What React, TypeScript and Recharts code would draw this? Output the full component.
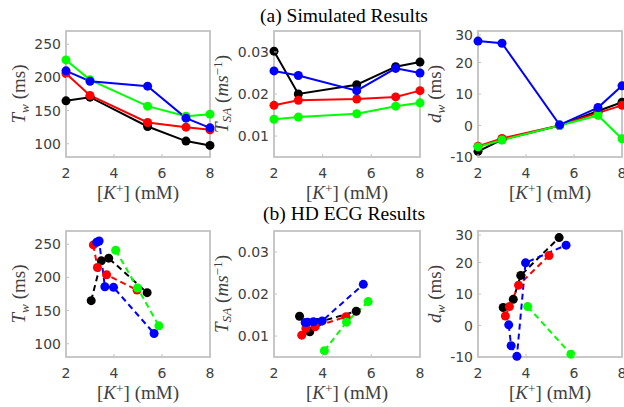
import { LineChart, Line, XAxis, YAxis } from "recharts";

// simulated results, K+ concentrations
const simK = [2, 3, 5.4, 7, 8];
const simTwBlack = [164.7, 170.2, 126, 104, 97.5];
const simTwRed = [205.9, 172.7, 132, 125, 121];
const simTwGreen = [226.4, 196.3, 156.7, 141.6, 144.6];
const simTwBlue = [209.9, 194.3, 186.8, 138.6, 124];

const simTsaBlack = [0.0302, 0.02, 0.0222, 0.0265, 0.0276];
const simTsaRed = [0.0173, 0.0185, 0.0188, 0.0193, 0.0208];
const simTsaGreen = [0.014, 0.0145, 0.0153, 0.0171, 0.0179];
const simTsaBlue = [0.0255, 0.0244, 0.0208, 0.0261, 0.025];

const simDwBlack = [-8.2, -4.5, 0, 4.6, 7.4];
const simDwRed = [-6.6, -4.1, 0, 4, 6.4];
const simDwGreen = [-6.8, -4.6, 0, 3.2, -4.2];
const simDwBlue = [26.8, 26.1, 0.2, 5.7, 12.6];

// HD ECG results, each patient has its own K+ values
const hdKBlack = [3.05, 3.47, 3.78, 5.38];
const hdKRed = [3.14, 3.31, 3.69, 4.96];
const hdKGreen = [4.07, 4.98, 5.87];
const hdKBlue = [3.28, 3.38, 3.62, 3.98, 5.67];

const hdTwBlack = [165, 225, 229, 177];
const hdTwRed = [249, 215, 204, 181];
const hdTwGreen = [241, 184, 127];
const hdTwBlue = [253, 255, 186, 185, 115.5];

const hdTsaBlack = [0.0147, 0.011, 0.0132, 0.0159];
const hdTsaRed = [0.0102, 0.0118, 0.0122, 0.0146];
const hdTsaGreen = [0.0065, 0.0133, 0.0182];
const hdTsaBlue = [0.0132, 0.0133, 0.0134, 0.0136, 0.0223];

const hdDwBlack = [5.7, 8.3, 15.9, 27.9];
const hdDwRed = [3.0, 6.0, 12.8, 22.2];
const hdDwGreen = [6.0, null, -9.1];
const hdDwBlue = [0.2, -6.4, -9.8, 19.9, 25.5];

const xTicks = [2, 4, 6, 8];
const twTicks = [100, 150, 200, 250];
const tsaTicks = [0.01, 0.02, 0.03];
const dwTicks = [-10, 0, 10, 20, 30];

const BLACK = "#000000";
const RED = "#ff0000";
const GREEN = "#00ff00";
const BLUE = "#0000ff";

const AXIS = "#c2c2c2";
const TXT = "#404040";
const tickFont = { fontFamily: "DejaVu Sans", fontSize: 14 };
const serif = "Liberation Serif";

type Series = { color: string; k: number[]; v: (number | null)[] };

const pts = (s: Series) =>
  s.k
    .map((k, i) => ({ k, v: s.v[i] }))
    .filter((p) => p.v !== null);

const BottomTick = (p: any) => (
  <g>
    <line x1={p.x} x2={p.x} y1={p.y} y2={p.y - 3} stroke={AXIS} />
    <text x={p.x} y={p.y + 21} textAnchor="middle" fill={TXT} {...tickFont}>
      {p.payload.value}
    </text>
  </g>
);
const LeftTick = (p: any) => (
  <g>
    <line x1={p.x} x2={p.x + 3} y1={p.y} y2={p.y} stroke={AXIS} />
    <text x={p.x - 5} y={p.y + 5} textAnchor="end" fill={TXT} {...tickFont}>
      {p.payload.value}
    </text>
  </g>
);

const L = 50;
const T = 5;
const R = 6;
const B = 30;

function Panel(props: {
  x: number;
  y: number;
  w: number;
  h: number;
  yDomain: [number, number];
  yTicks: number[];
  series: Series[];
  dashed?: boolean;
}) {
  const { x, y, w, h, yDomain, yTicks, series, dashed } = props;
  return (
    <>
      {/* axes box */}
      <svg
        width={w + 4}
        height={h + 4}
        style={{ position: "absolute", left: x - 2, top: y - 2, pointerEvents: "none" }}
      >
        <rect x={2} y={2} width={w} height={h} fill="none" stroke={AXIS} strokeWidth={1.8} />
      </svg>
      <div style={{ position: "absolute", left: x - L, top: y - T }}>
        <LineChart width={L + w + R} height={T + h + B} margin={{ top: T, right: R, bottom: 0, left: 0 }}>
          <XAxis
            dataKey="k"
            type="number"
            domain={[2, 8]}
            ticks={xTicks}
            height={B}
            tickSize={0}
            tickMargin={0}
            tickLine={false}
            tick={BottomTick}
            axisLine={false}
            allowDuplicatedCategory={false}
          />
          <YAxis
            type="number"
            domain={yDomain}
            ticks={yTicks}
            width={L}
            tickSize={0}
            tickMargin={0}
            tickLine={false}
            tick={LeftTick}
            axisLine={false}
          />
          {series.map((s, i) => (
            <Line
              key={i}
              data={pts(s)}
              dataKey="v"
              stroke={s.color}
              strokeWidth={2}
              strokeDasharray={dashed ? "6 4" : undefined}
              dot={{ r: 4.5, fill: s.color, stroke: s.color, strokeWidth: 0, strokeDasharray: "0" }}
              activeDot={false}
              isAnimationActive={false}
            />
          ))}
        </LineChart>
      </div>
    </>
  );
}

const labelBase: React.CSSProperties = {
  position: "absolute",
  transform: "translate(-50%, -50%)",
  fontFamily: serif,
  fontSize: 19,
  color: TXT,
  whiteSpace: "nowrap",
  lineHeight: 1,
};

const sub: React.CSSProperties = { fontSize: "0.7em", verticalAlign: "-0.25em" };
const sup: React.CSSProperties = { fontSize: "0.7em", verticalAlign: "0.45em" };

function XLabel({ cx, cy }: { cx: number; cy: number }) {
  return (
    <div style={{ ...labelBase, left: cx, top: cy }}>
      [<i>K</i>
      <span style={sup}>+</span>] (mM)
    </div>
  );
}

function YLabel({ cx, cy, kind }: { cx: number; cy: number; kind: "tw" | "tsa" | "dw" }) {
  let content;
  if (kind === "tw")
    content = (
      <>
        <i>T</i>
        <i style={sub}>w</i> (ms)
      </>
    );
  else if (kind === "tsa")
    content = (
      <>
        <i>T</i>
        <i style={sub}>SA</i> (<i>ms</i>
        <span style={sup}>−1</span>)
      </>
    );
  else
    content = (
      <>
        <i>d</i>
        <i style={sub}>w</i> (ms)
      </>
    );
  return (
    <div style={{ ...labelBase, left: cx, top: cy, transform: "translate(-50%, -50%) rotate(-90deg)" }}>
      {content}
    </div>
  );
}

const cols = [
  { x: 66, w: 144 },
  { x: 274, w: 146 },
  { x: 478, w: 144 },
];
const rows = [31, 231];
const H = 126;

export default function App() {
  const simTw: Series[] = [
    { color: BLACK, k: simK, v: simTwBlack },
    { color: RED, k: simK, v: simTwRed },
    { color: GREEN, k: simK, v: simTwGreen },
    { color: BLUE, k: simK, v: simTwBlue },
  ];
  const simTsa: Series[] = [
    { color: BLACK, k: simK, v: simTsaBlack },
    { color: RED, k: simK, v: simTsaRed },
    { color: GREEN, k: simK, v: simTsaGreen },
    { color: BLUE, k: simK, v: simTsaBlue },
  ];
  const simDw: Series[] = [
    { color: BLACK, k: simK, v: simDwBlack },
    { color: RED, k: simK, v: simDwRed },
    { color: GREEN, k: simK, v: simDwGreen },
    { color: BLUE, k: simK, v: simDwBlue },
  ];
  const hdTw: Series[] = [
    { color: BLACK, k: hdKBlack, v: hdTwBlack },
    { color: RED, k: hdKRed, v: hdTwRed },
    { color: GREEN, k: hdKGreen, v: hdTwGreen },
    { color: BLUE, k: hdKBlue, v: hdTwBlue },
  ];
  const hdTsa: Series[] = [
    { color: BLACK, k: hdKBlack, v: hdTsaBlack },
    { color: RED, k: hdKRed, v: hdTsaRed },
    { color: GREEN, k: hdKGreen, v: hdTsaGreen },
    { color: BLUE, k: hdKBlue, v: hdTsaBlue },
  ];
  const hdDw: Series[] = [
    { color: BLACK, k: hdKBlack, v: hdDwBlack },
    { color: RED, k: hdKRed, v: hdDwRed },
    { color: GREEN, k: hdKGreen, v: hdDwGreen },
    { color: BLUE, k: hdKBlue, v: hdDwBlue },
  ];

  const panels = [
    { row: 0, col: 0, dom: [80, 270] as [number, number], ticks: twTicks, s: simTw, kind: "tw" as const },
    { row: 0, col: 1, dom: [0.005, 0.035] as [number, number], ticks: tsaTicks, s: simTsa, kind: "tsa" as const },
    { row: 0, col: 2, dom: [-10, 30] as [number, number], ticks: dwTicks, s: simDw, kind: "dw" as const },
    { row: 1, col: 0, dom: [80, 270] as [number, number], ticks: twTicks, s: hdTw, kind: "tw" as const },
    { row: 1, col: 1, dom: [0.005, 0.035] as [number, number], ticks: tsaTicks, s: hdTsa, kind: "tsa" as const },
    { row: 1, col: 2, dom: [-10, 30] as [number, number], ticks: dwTicks, s: hdDw, kind: "dw" as const },
  ];
  const yLabelX = [20, 222, 436];

  return (
    <div style={{ position: "absolute", left: 0, top: 0, width: 624, height: 407, background: "#fff" }}>
      <div style={{ ...labelBase, left: 344, top: 16, color: "#000", fontSize: 19.5 }}>(a) Simulated Results</div>
      <div style={{ ...labelBase, left: 344, top: 214, color: "#000", fontSize: 19.5 }}>(b) HD ECG Results</div>
      {panels.map((p, i) => {
        const c = cols[p.col];
        const top = rows[p.row];
        return (
          <div key={i}>
            <Panel
              x={c.x}
              y={top}
              w={c.w}
              h={H}
              yDomain={p.dom}
              yTicks={p.ticks}
              series={p.s}
              dashed={p.row === 1}
            />
            <XLabel cx={c.x + c.w / 2} cy={top + 161} />
            <YLabel cx={yLabelX[p.col]} cy={top + H / 2} kind={p.kind} />
          </div>
        );
      })}
    </div>
  );
}
